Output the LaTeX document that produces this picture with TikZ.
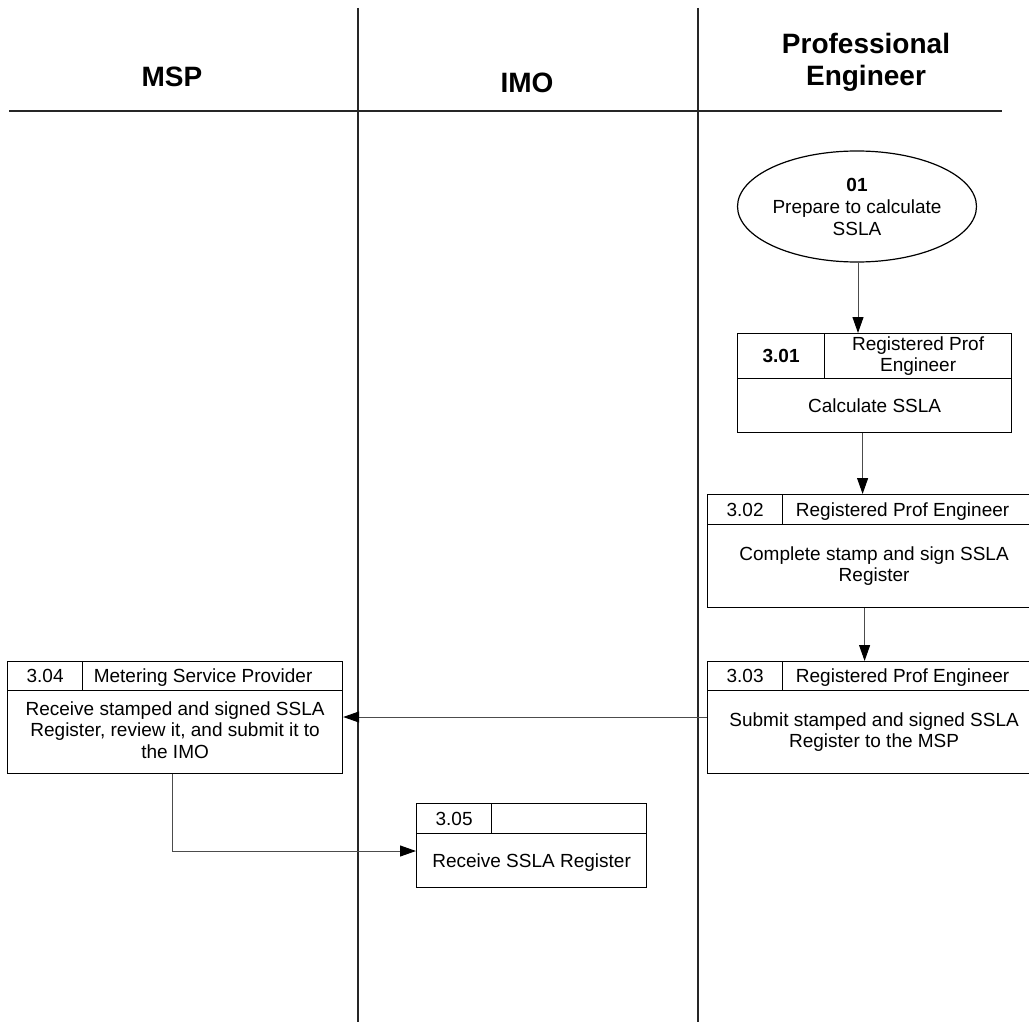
\documentclass[tikz,border=0pt]{standalone}
\usepackage{fontspec}
\setmainfont{Liberation Sans}
\usetikzlibrary{arrows.meta,shapes.geometric}
\newcommand{\topfix}{\rule{0pt}{17.8pt}}
\newcommand{\botfix}{\rule[-4.2pt]{0pt}{4.2pt}}
\begin{document}
\begin{tikzpicture}[x=1pt,y=-1pt,
  cell/.style={draw, line width=1.2pt, rectangle, inner sep=0pt, anchor=north west,
    font=\fontsize{19}{21.5}\selectfont, align=center,
    execute at begin node=\topfix, execute at end node=\botfix},
  txt/.style={inner sep=0pt, font=\fontsize{19}{21.5}\selectfont, align=center,
    execute at begin node=\topfix, execute at end node=\botfix},
  hdr/.style={inner sep=0pt, font=\fontsize{28}{32}\selectfont\bfseries, align=center},
  lane/.style={line width=1.4pt, draw=black!85},
  arr/.style={draw=black!70, line width=1pt, -{Triangle[length=16pt,width=11pt,color=black]}}]
\useasboundingbox (0,0) rectangle (1029,1022);
\clip (0,0) rectangle (1029,1022);

% swimlanes
\draw[lane] (358,8) -- (358,1022);
\draw[lane] (698,8) -- (698,1022);
\draw[lane] (9,111) -- (1002,111);
\node[hdr] (hMSP) at (172,77) {MSP};
\node[hdr] (hIMO) at (527,83) {IMO};
\node[hdr] (hPE) at (866,62) {Professional\\Engineer};

% start ellipse
\node[ellipse, draw, line width=1.2pt, minimum width=194pt, minimum height=111pt, inner sep=0pt,
  font=\fontsize{19}{22}\selectfont, align=center] (e01) at (857,206.5)
  {\textbf{01}\\Prepare to calculate\\SSLA};

% 3.01
\node[cell, minimum width=87pt, minimum height=45pt] (n301) at (737,333) {\textbf{3.01}};
\node[cell, minimum width=187pt, minimum height=45pt] (h301) at (824,333) {Registered Prof\\Engineer};
\node[cell, minimum width=274pt, minimum height=54pt] (b301) at (737,378) {Calculate SSLA};

% 3.02
\node[cell, minimum width=75pt, minimum height=30pt] (n302) at (707,494) {3.02};
\node[cell, minimum width=258pt, minimum height=30pt] (h302) at (782,494) {};
\node[txt] (t302) at ([xshift=-9pt]h302.center) {Registered Prof Engineer};
\node[cell, minimum width=333pt, minimum height=83pt] (b302) at (707,524) {Complete stamp and sign SSLA\\Register};

% 3.03
\node[cell, minimum width=75pt, minimum height=29pt] (n303) at (707,661) {3.03};
\node[cell, minimum width=258pt, minimum height=29pt] (h303) at (782,661) {};
\node[txt] (t303) at ([xshift=-9pt]h303.center) {Registered Prof Engineer};
\node[cell, minimum width=333pt, minimum height=83pt] (b303) at (707,690) {Submit stamped and signed SSLA\\Register to the MSP};

% 3.04
\node[cell, minimum width=75pt, minimum height=29pt] (n304) at (7,661) {3.04};
\node[cell, minimum width=260pt, minimum height=29pt] (h304) at (82,661) {};
\node[txt] (t304) at ([xshift=-9.5pt]h304.center) {Metering Service Provider};
\node[cell, minimum width=335pt, minimum height=83pt] (b304) at (7,690) {Receive stamped and signed SSLA\\Register, review it, and submit it to\\the IMO};

% 3.05
\node[cell, minimum width=75pt, minimum height=30pt] (n305) at (416,803) {3.05};
\node[cell, minimum width=155pt, minimum height=30pt] (h305) at (491,803) {};
\node[cell, minimum width=230pt, minimum height=54pt] (b305) at (416,833) {Receive SSLA Register};

% connectors
\draw[arr] ([xshift=1pt]e01.south) -- ([xshift=1pt]e01.south |- h301.north);
\draw[arr] ([xshift=-12pt]b301.south) -- ([xshift=-12pt]b301.south |- h302.north);
\draw[arr] ([xshift=-9.5pt]b302.south) -- ([xshift=-9.5pt]b302.south |- h303.north);
\draw[arr] (b303.west |- 0,717) -- (b304.east |- 0,717);
\draw[arr] ([xshift=-2.5pt]b304.south) |- (b305.west |- 0,851);
\end{tikzpicture}
\end{document}
